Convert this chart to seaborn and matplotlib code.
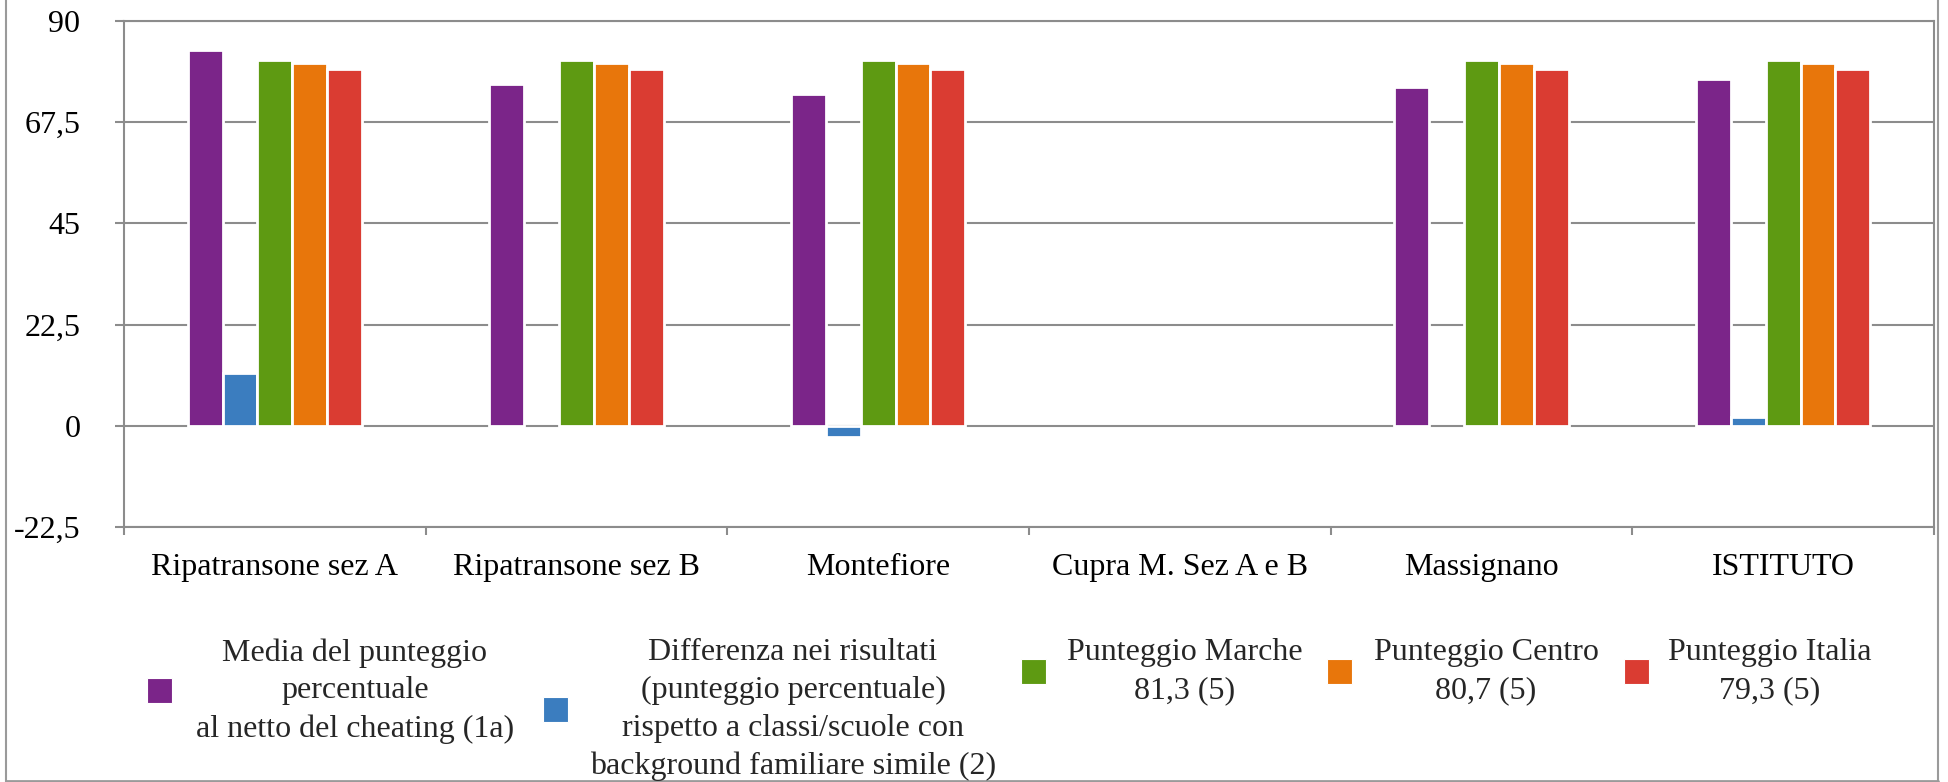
import matplotlib
matplotlib.use("Agg")
import matplotlib.pyplot as plt
import matplotlib.patches as mpatches
import matplotlib.lines as mlines
import numpy as np
import pandas as pd
import seaborn as sns

categories = ["Ripatransone sez A", "Ripatransone sez B", "Montefiore",
              "Cupra M. Sez A e B", "Massignano", "ISTITUTO"]
series = ["Media del punteggio\npercentuale\nal netto del cheating (1a)",
          "Differenza nei risultati\n(punteggio percentuale)\nrispetto a classi/scuole con\nbackground familiare simile (2)",
          "Punteggio Marche\n81,3 (5)",
          "Punteggio Centro\n80,7 (5)",
          "Punteggio Italia\n79,3 (5)"]
media = [83.5, 76.0, 73.7, np.nan, 75.4, 77.2]
differenza = [11.8, np.nan, -2.6, np.nan, np.nan, 2.0]
marche = [81.3, 81.3, 81.3, np.nan, 81.3, 81.3]
centro = [80.7, 80.7, 80.7, np.nan, 80.7, 80.7]
italia = [79.3, 79.3, 79.3, np.nan, 79.3, 79.3]
yticks = [-22.5, 0, 22.5, 45, 67.5, 90]
ytick_labels = ["-22,5", "0", "22,5", "45", "67,5", "90"]
colors = ["#7B2589", "#3B7DBF", "#5E9A12", "#E8760B", "#DA3C32"]

rows = []
for s, vals in zip(series, [media, differenza, marche, centro, italia]):
    for c, v in zip(categories, vals):
        rows.append({"cat": c, "series": s, "val": v})
df = pd.DataFrame(rows)

sns.set_theme(style="white")
plt.rcParams["font.family"] = ["Liberation Serif", "DejaVu Serif"]

FS = 23
W, H = 1948, 782
fig = plt.figure(figsize=(W / 100, H / 100), dpi=100)
ax = fig.add_axes([124 / W, 1 - 527 / H, (1934 - 124) / W, (527 - 21) / H])

grid_c = "#8c8c8c"
sns.barplot(data=df, x="cat", y="val", hue="series", order=categories,
            hue_order=series, palette=colors, width=0.577, errorbar=None,
            edgecolor="white", linewidth=2, saturation=1, legend=False, ax=ax)

ax.set_ylim(-22.5, 90)
ax.set_xlim(-0.5, len(categories) - 0.5)
ax.set_yticks(yticks)
ax.set_yticklabels(ytick_labels)
ax.yaxis.grid(True, color=grid_c, linewidth=1.5)
ax.xaxis.grid(False)
ax.set_axisbelow(True)
ax.set_xlabel("")
ax.set_ylabel("")
for sp in ax.spines.values():
    sp.set_visible(True)
    sp.set_color(grid_c)
    sp.set_linewidth(1.5)

ax.set_xticks(np.arange(-0.5, len(categories), 1.0), minor=True)
ax.tick_params(axis="x", which="major", length=0, pad=19, labelsize=FS, colors="black")
ax.tick_params(axis="x", which="minor", length=6, width=1.5, color=grid_c, direction="out", bottom=True)
ax.tick_params(axis="y", which="major", length=6.5, width=1.5, color=grid_c, pad=25,
               labelsize=FS, left=True, labelcolor="black")

# outer frame
fig.add_artist(mlines.Line2D([6 / W, 6 / W], [0, 1], color="#9a9a9a", lw=1.5, transform=fig.transFigure))
fig.add_artist(mlines.Line2D([1938 / W, 1938 / W], [0, 1], color="#9a9a9a", lw=1.5, transform=fig.transFigure))
fig.add_artist(mlines.Line2D([6 / W, 1938 / W], [1.5 / H, 1.5 / H], color="#9a9a9a", lw=2, transform=fig.transFigure))

# legend (manual, top-aligned multi-line labels)
text_cx = [355, 793, 1185, 1486, 1770]
square_x = [147, 543, 1021, 1327, 1624]
sq = 25
texts = []
for lab, cx in zip(series, text_cx):
    t = fig.text(cx / W, 1 - 638 / H, lab, ha="center", va="top", multialignment="center",
                 fontsize=FS, linespacing=1.4)
    texts.append(t)
fig.canvas.draw()
r = fig.canvas.get_renderer()
for t, sx, col in zip(texts, square_x, colors):
    bb = t.get_window_extent(renderer=r)
    cy = (bb.y0 + bb.y1) / 2
    fig.add_artist(mpatches.Rectangle((sx / W, (cy - sq / 2) / H), sq / W, sq / H,
                                      facecolor=col, edgecolor="white", lw=0.8,
                                      transform=fig.transFigure))

fig.savefig("out.png", dpi=100)
